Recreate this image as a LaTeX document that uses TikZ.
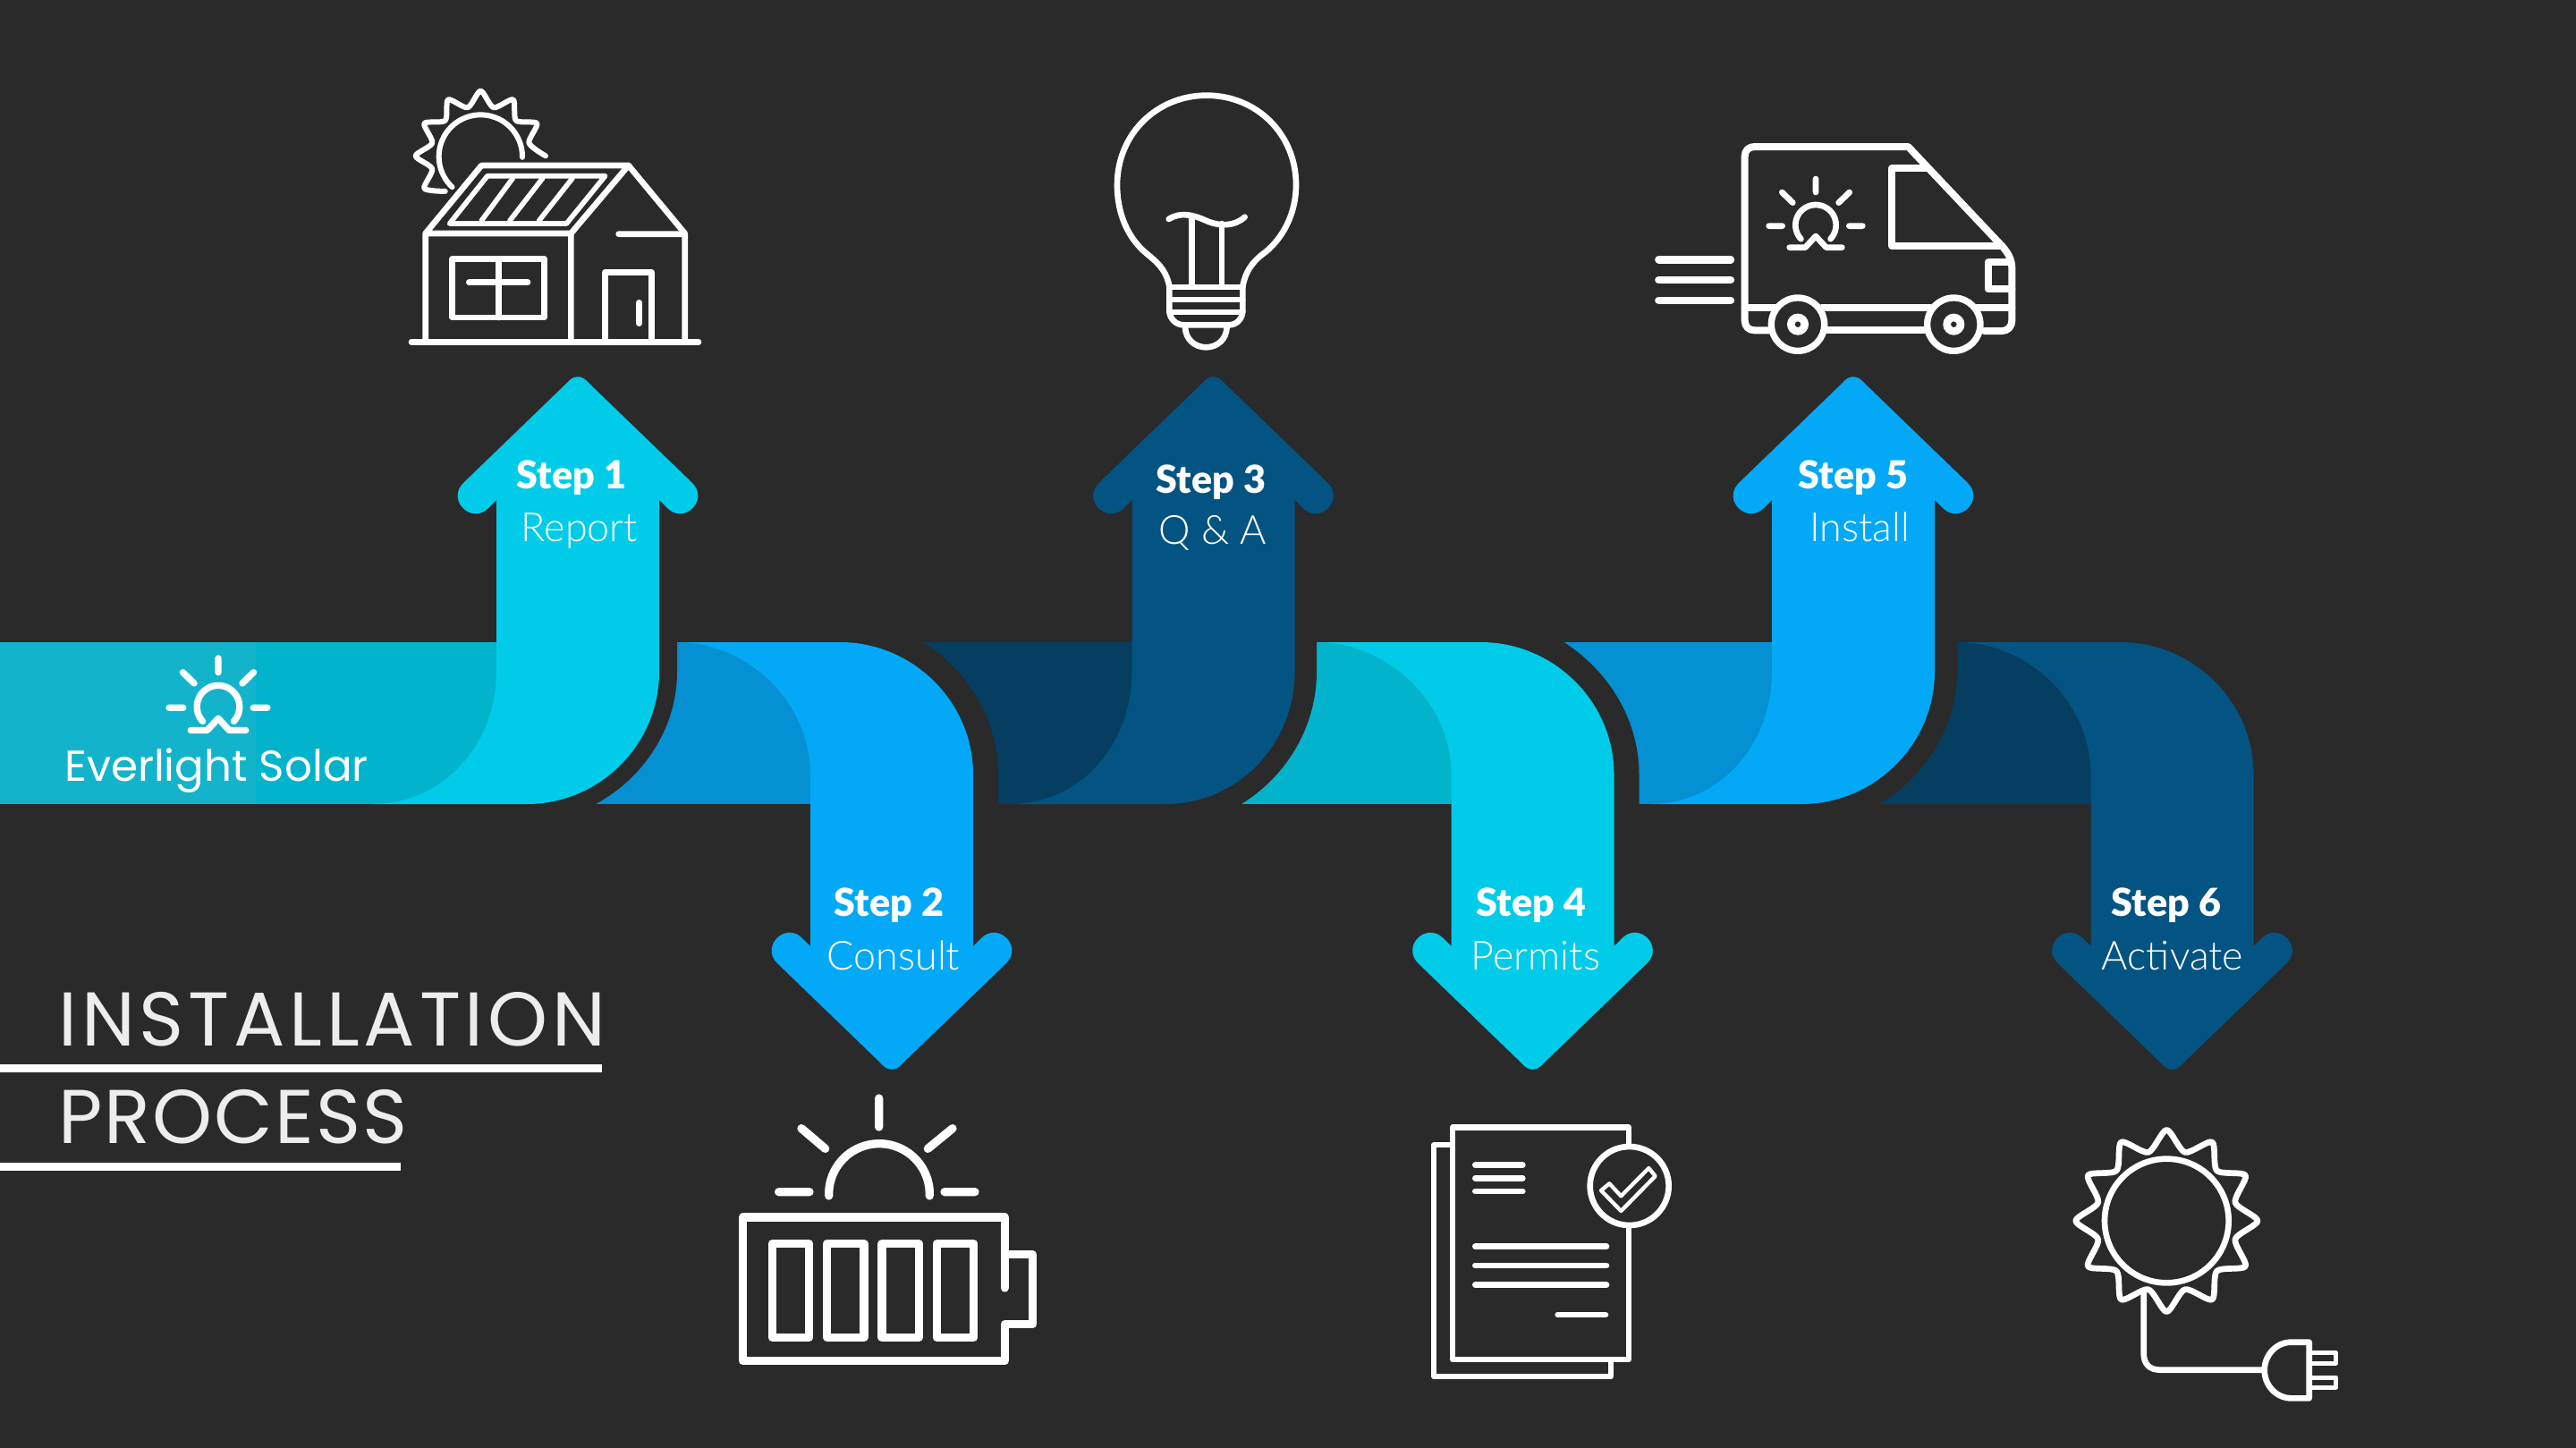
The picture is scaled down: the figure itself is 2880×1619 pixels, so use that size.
\documentclass[tikz,border=0pt]{standalone}
\usepackage{fontspec}
\setmainfont{Lato}
\newfontfamily\lightfont{Lato Light}
\newfontfamily\heavyfont{Lato Black}
\newfontfamily\titlefont{Poppins}
\newfontfamily\titlewide[LetterSpace=5.6]{Poppins}
\newfontfamily\titlemid[LetterSpace=2.5]{Poppins}
\definecolor{bg}{HTML}{2A2A2A}
\definecolor{cyanB}{HTML}{00CCE9}
\definecolor{cyanD}{HTML}{02B3CC}
\definecolor{cyanL}{HTML}{13B4CB}
\definecolor{blueB}{HTML}{03A9F6}
\definecolor{blueD}{HTML}{0490D2}
\definecolor{navyB}{HTML}{035482}
\definecolor{navyD}{HTML}{053E60}
\tikzset{
  zw/.style={line width=#1*0.1897pt},
  ic/.style={draw=white,line cap=round,line join=round},
  stephead/.style={text=white,inner sep=0pt,anchor=base,font=\fontsize{24.5}{28}\selectfont\heavyfont},
  stepsub/.style={text=white,inner sep=0pt,anchor=base,font=\fontsize{25.5}{28}\selectfont\lightfont},
  titletext/.style={text=white!93!black,inner sep=0pt,anchor=base west},
  zoomed/.style={shift={#1},scale=1/3}
}
% cx, bright, dark, halo gap, inner offset, outer offset
\newcommand{\flowarrow}[6]{%
  \fill[bg] ({#1+91+#4},695) -- ({#1+91+#4},751)
     .. controls ({#1+91+#4},{751+0.5523*(148+#4)}) and ({#1-#6+0.52*(147+#4)},{899+#4}) .. ({#1-#6},{899+#4})
     -- ({#1-#6},695) -- cycle;
  \fill[#3] ({#1-360},718) rectangle ({#1-85},899);
  \fill[#2] ({#1-91},559) -- ({#1-100},568)
     .. controls ({#1-119},587) and ({#1-147},559) .. ({#1-128},540)
     -- ({#1-12},428) .. controls ({#1-5},419) and ({#1+5},419) .. ({#1+12},428)
     -- ({#1+128},540) .. controls ({#1+147},559) and ({#1+119},587) .. ({#1+100},568)
     -- ({#1+91},559) -- ({#1+91},751)
     .. controls ({#1+91},833) and ({#1-#6+81},899) .. ({#1-#6},899)
     -- ({#1-#5},899) .. controls ({#1-#5+78},899) and ({#1-91},833) .. ({#1-91},751) -- cycle;
}
\newcommand{\sunlogo}[1]{%
  \draw[ic,zw=#1] (0,0) -- (0,45) (-113,45) -- (-77,80) (113,45) -- (77,80)
     (-157,158) -- (-112,158) (157,158) -- (112,158);
  \draw[ic,zw=#1] plot[domain=137:403,samples=40,variable=\t] ({68*cos(\t)},{155+68*sin(\t)});
  \draw[ic,zw=#1] (-88,230) -- (-35,230) -- (0,192) -- (35,230) -- (88,230);
}
\begin{document}
\begin{tikzpicture}[x=0.02cm,y=-0.02cm]
\useasboundingbox (0,0) rectangle (2880,1619);
\fill[bg] (0,0) rectangle (2880,1619);
% ribbons, last to first so that each sits on the one after it
\begin{scope}[shift={(0,1617)},yscale=-1]
  \flowarrow{2428.5}{navyB}{navyD}{28}{240}{58}
\end{scope}
\flowarrow{2072}{blueB}{blueD}{25}{227}{58}
\begin{scope}[shift={(0,1617)},yscale=-1]
  \flowarrow{1713.5}{cyanB}{cyanD}{28}{241}{58}
\end{scope}
\flowarrow{1356.5}{navyB}{navyD}{24.5}{227}{54}
\begin{scope}[shift={(0,1617)},yscale=-1]
  \flowarrow{997}{blueB}{blueD}{28}{240}{58}
\end{scope}
\fill[cyanD] (0,718) rectangle (560,899);
\fill[cyanL] (0,718) rectangle (364,899);
\flowarrow{646}{cyanB}{cyanD}{20}{229}{57}
% logo
\begin{scope}[zoomed={(244,736)},scale=1.05]
  \sunlogo{22}
\end{scope}
\node[text=white,inner sep=0pt,anchor=base,font=\fontsize{27.5}{30}\selectfont\titlefont] (brand) at (242,873) {Everlight Solar};
% step labels
\node[stephead] (s1) at (639,546.5) {Step 1};
\node[stepsub]  (t1) at (648,605) {Report};
\node[stephead] (s2) at (994,1024.5) {Step 2};
\node[stepsub]  (t2) at (999,1084) {Consult};
\node[stephead] (s3) at (1354,551) {Step 3};
\node[stepsub]  (t3) at (1356,608) {Q \& A};
\node[stephead] (s4) at (1712,1024.5) {Step 4};
\node[stepsub]  (t4) at (1717,1084) {Permits};
\node[stephead] (s5) at (2072,546.5) {Step 5};
\node[stepsub]  (t5) at (2079,605) {Install};
\node[stephead] (s6) at (2422,1024.5) {Step 6};
\node[stepsub]  (t6) at (2429,1084) {Activate};
% title
\node[titletext,font=\fontsize{48.5}{56}\selectfont\titlewide] (title1) at (65,1169) {INSTALLATION};
\node[titletext,font=\fontsize{48.5}{56}\selectfont\titlemid] (title2) at (65,1278) {PROCESS};
\fill[white] (0,1190) rectangle (673,1199);
\fill[white] (0,1300) rectangle (448,1309);
% house
\begin{scope}[zoomed={(420,80)}]
  \draw[ic,zw=20] (120,907) -- (1083,907);
  \draw[ic,zw=20] (167,907) -- (167,543) -- (355,315) -- (848,315) -- (655,543) -- (167,543);
  \draw[ic,zw=20] (655,543) -- (655,907) (848,315) -- (1037,543) -- (1037,907) (815,545) -- (1037,545);
  \draw[ic,zw=20] (257,628) rectangle (565,825) (412,628) -- (412,825) (313,707) -- (510,707);
  \draw[ic,zw=20] (770,907) -- (770,673) -- (925,673) -- (925,907) (884,775) -- (884,845);
  \draw[ic,zw=17] (248,510) -- (640,510) -- (770,350) -- (375,350) -- cycle;
  \draw[ic,zw=17] (355,500) -- (460,358) (450,500) -- (560,358) (548,500) -- (660,358);
  \draw[ic,zw=18] plot[smooth,tension=0.45,samples at={135,150,...,360},variable=\t]
     ({352+(mod(\t,30)<1?218:168)*cos(\t)},{283+(mod(\t,30)<1?218:168)*sin(\t)});
  \draw[ic,zw=18] plot[domain=133:361,samples=40,variable=\t] ({352+140*cos(\t)},{285+140*sin(\t)});
\end{scope}
% bulb
\begin{scope}[zoomed={(1220,90)}]
  \draw[ic,zw=20] (262,690) .. controls (250,630) and (215,605) .. (185,580)
     .. controls (125,530) and (87,450) .. (87,350) .. controls (87,180) and (220,50) .. (387,50)
     .. controls (555,50) and (687,180) .. (687,350) .. controls (687,450) and (640,530) .. (585,575)
     .. controls (550,600) and (520,630) .. (508,690);
  \draw[ic,zw=20] (262,693) -- (508,693) (262,735) -- (508,735) (262,777) -- (508,777);
  \draw[ic,zw=20] (262,690) -- (262,770) .. controls (262,800) and (285,820) .. (310,820) -- (462,820)
     .. controls (487,820) and (508,800) .. (508,770) -- (508,690);
  \draw[ic,zw=20] (315,825) .. controls (315,870) and (350,895) .. (385,895) .. controls (420,895) and (455,870) .. (455,825);
  \draw[ic,zw=20] (260,465) .. controls (300,440) and (340,450) .. (385,470) .. controls (430,490) and (480,490) .. (515,458);
  \draw[ic,zw=20] (337,460) -- (337,690) (438,480) -- (438,690);
\end{scope}
% van
\begin{scope}[zoomed={(1830,140)}]
  \draw[ic,zw=25] (73,451) -- (315,451) (73,519) -- (315,519) (73,587) -- (315,587);
  \draw[ic,zw=24] (445,688) -- (395,688) .. controls (375,688) and (362,675) .. (362,655)
     -- (362,105) .. controls (362,85) and (375,72) .. (395,72) -- (910,72) -- (1215,395)
     .. controls (1245,425) and (1258,450) .. (1258,480) -- (1258,655)
     .. controls (1258,675) and (1245,690) .. (1225,690) -- (1165,690);
  \draw[ic,zw=24] (640,688) -- (965,688);
  \draw[ic,zw=24] (362,613) -- (465,613) (620,613) -- (985,613) (1140,613) -- (1258,613);
  \draw[ic,zw=24] (975,145) -- (855,145) -- (855,405) -- (1225,405);
  \draw[ic,zw=24] (1250,460) -- (1178,460) -- (1178,550) -- (1258,550);
  \draw[white,zw=22,fill=bg] (540,668) circle[radius=89] (1063,668) circle[radius=89];
  \draw[white,zw=26] (540,668) circle[radius=23] (1063,668) circle[radius=23];
  \begin{scope}[shift={(600,180)}]
    \sunlogo{20}
  \end{scope}
\end{scope}
% battery
\begin{scope}[zoomed={(800,1200)}]
  \draw[ic,zw=28] (970,720) -- (970,483) -- (92,483) -- (92,965) -- (970,965) -- (970,842) -- (1063,842) -- (1063,608) -- (972,608);
  \draw[ic,zw=28] (190,572) rectangle (314,886) (374,572) rectangle (498,886) (558,572) rectangle (682,886) (742,572) rectangle (866,886);
  \draw[ic,zw=28] plot[domain=178:362,samples=40,variable=\t] ({549+169*cos(\t)},{405+169*sin(\t)});
  \draw[ic,zw=28] (548,84) -- (548,180) (288,185) -- (368,253) (795,185) -- (712,253) (212,398) -- (315,398) (768,398) -- (870,398);
\end{scope}
% documents
\begin{scope}[zoomed={(1570,1230)}]
  \draw[ic,zw=18] (155,150) -- (100,150) -- (100,928) -- (693,928) -- (693,872);
  \draw[ic,zw=20] (162,92) rectangle (753,870);
  \draw[white,zw=20,fill=bg] (755,288) circle[radius=132];
  \draw[ic,zw=13] (660,303) -- (688,280) -- (727,322) -- (820,228) -- (842,255) -- (727,372) -- cycle;
  \draw[ic,zw=20] (238,218) -- (397,218) (238,262) -- (397,262) (238,306) -- (397,306);
  \draw[ic,zw=20] (238,491) -- (678,491) (238,555) -- (678,555) (238,620) -- (678,620) (515,720) -- (675,720);
\end{scope}
% sun with plug
\begin{scope}[zoomed={(2290,1240)}]
  \draw[white,zw=20] (397,375) circle[radius=208];
  \draw[ic,zw=20] plot[smooth cycle,tension=0.45,samples at={0,15,...,345},variable=\t]
     ({397+(mod(\t,30)<1?305:238)*cos(\t)},{375+(mod(\t,30)<1?305:238)*sin(\t)});
  \draw[ic,zw=20] (320,615) -- (320,820) .. controls (320,855) and (340,875) .. (375,875) -- (720,875);
  \draw[ic,zw=20] (875,782) -- (815,782) .. controls (765,782) and (725,825) .. (725,876)
     .. controls (725,927) and (765,970) .. (815,970) -- (875,970) -- cycle;
  \draw[ic,zw=15] (880,818) -- (965,818) -- (965,852) -- (880,852) (880,900) -- (965,900) -- (965,934) -- (880,934);
\end{scope}
\end{tikzpicture}
\end{document}
